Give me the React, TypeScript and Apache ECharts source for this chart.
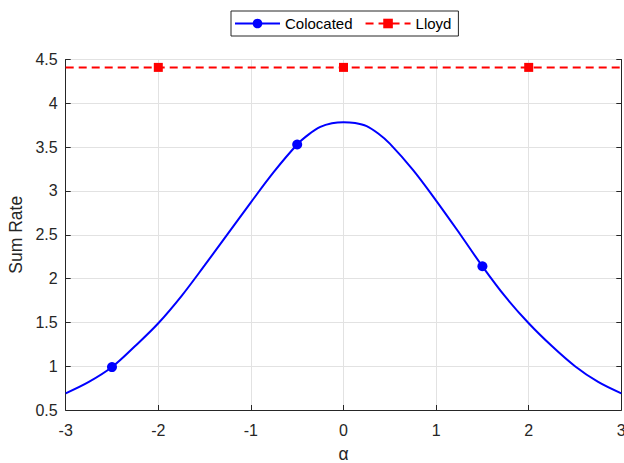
import React, { useEffect, useRef } from "react";
import * as echarts from "echarts";

// α sample positions and the colocated sum rate at each of them
const alphaGrid = [
  -3, -2.75, -2.5, -2.25, -2, -1.75, -1.5, -1.25, -1, -0.75, -0.5, -0.375,
  -0.25, -0.125, 0, 0.125, 0.25, 0.375, 0.5, 0.75, 1, 1.25, 1.5, 1.75, 2, 2.25,
  2.5, 2.75, 3,
];
const colocatedRate = [
  0.69, 0.82, 0.99, 1.23, 1.49, 1.8, 2.15, 2.51, 2.87, 3.22, 3.53, 3.645, 3.73,
  3.772, 3.785, 3.775, 3.74, 3.655, 3.54, 3.24, 2.89, 2.52, 2.14, 1.79, 1.49,
  1.23, 1.0, 0.82, 0.69,
];
// α values that carry a marker on the colocated curve
const colocatedMarkerAlpha = [-2.5, -0.5, 1.5];

// Lloyd sum rate is flat over α
const lloydAlpha = [-3, -2, 0, 2, 3];
const lloydRate = [4.41, 4.41, 4.41, 4.41, 4.41];
const lloydMarkerAlpha = [-2, 0, 2];

const xTicks = [-3, -2, -1, 0, 1, 2, 3];
const yTicks = [0.5, 1, 1.5, 2, 2.5, 3, 3.5, 4, 4.5];

const FONT = "'Liberation Sans', Arial, Helvetica, sans-serif";
const INK = "#262626";
const GRID = "#e2e2e2";

export default function App() {
  const ref = useRef<HTMLDivElement>(null);

  useEffect(() => {
    if (!ref.current) return;
    const chart = echarts.init(ref.current, undefined, { renderer: "svg" });

    const colocatedData = alphaGrid.map((a, i) => ({
      value: [a, colocatedRate[i]],
      symbol: colocatedMarkerAlpha.includes(a) ? "circle" : "none",
    }));
    const lloydData = lloydAlpha.map((a, i) => ({
      value: [a, lloydRate[i]],
      symbol: lloydMarkerAlpha.includes(a) ? "rect" : "none",
    }));

    const yAxisCommon = {
      type: "value" as const,
      min: yTicks[0],
      max: yTicks[yTicks.length - 1],
      interval: 0.5,
      axisLine: { show: true, onZero: false, lineStyle: { color: INK, width: 1 } },
      axisTick: { show: true, inside: true, length: 5, lineStyle: { color: INK } },
    };

    chart.setOption({
      animation: false,
      backgroundColor: "#ffffff",
      textStyle: { fontFamily: FONT },
      grid: {
        left: 65.7,
        right: 2.7,
        top: 59.5,
        bottom: 53,
        containLabel: false,
        outerBoundsMode: "none",
      },
      legend: {
        top: 11,
        left: 231,
        itemWidth: 45,
        itemHeight: 12,
        itemGap: 12,
        padding: [5, 7, 5, 3],
        borderColor: INK,
        borderWidth: 1,
        backgroundColor: "#ffffff",
        textStyle: { fontSize: 15, color: "#000000", fontFamily: FONT },
        data: ["Colocated", "Lloyd"],
      },
      xAxis: {
        type: "value",
        min: xTicks[0],
        max: xTicks[xTicks.length - 1],
        interval: 1,
        name: "α",
        nameLocation: "middle",
        nameGap: 35,
        nameTextStyle: { fontSize: 17.5, color: INK, fontFamily: FONT },
        axisLine: { show: true, onZero: false, lineStyle: { color: INK, width: 1 } },
        axisTick: { show: true, inside: true, length: 5, lineStyle: { color: INK } },
        axisLabel: { fontSize: 16, color: INK, margin: 12, fontFamily: FONT },
        splitLine: { show: true, lineStyle: { color: GRID, width: 1 } },
      },
      yAxis: [
        {
          ...yAxisCommon,
          position: "left",
          name: "Sum Rate",
          nameLocation: "middle",
          nameGap: 40,
          nameTextStyle: { fontSize: 17.5, color: INK, fontFamily: FONT },
          axisLabel: { fontSize: 16, color: INK, margin: 8, fontFamily: FONT },
          splitLine: { show: true, lineStyle: { color: GRID, width: 1 } },
        },
        {
          ...yAxisCommon,
          position: "right",
          axisLabel: { show: false },
          splitLine: { show: false },
        },
      ],
      series: [
        {
          name: "Colocated",
          type: "line",
          yAxisIndex: 0,
          data: colocatedData,
          smooth: 0.35,
          symbol: "circle",
          symbolSize: 10,
          showSymbol: true,
          lineStyle: { color: "#0000ff", width: 2 },
          itemStyle: { color: "#0000ff" },
          z: 3,
        },
        {
          name: "Lloyd",
          type: "line",
          yAxisIndex: 0,
          data: lloydData,
          symbol: "rect",
          symbolSize: 9,
          showSymbol: true,
          lineStyle: { color: "#ff0000", width: 2, type: [8, 5] },
          itemStyle: { color: "#ff0000" },
          z: 3,
        },
      ],
    });

    return () => chart.dispose();
  }, []);

  return (
    <div
      ref={ref}
      style={{ position: "absolute", left: 0, top: 0, width: 624, height: 463 }}
    />
  );
}
